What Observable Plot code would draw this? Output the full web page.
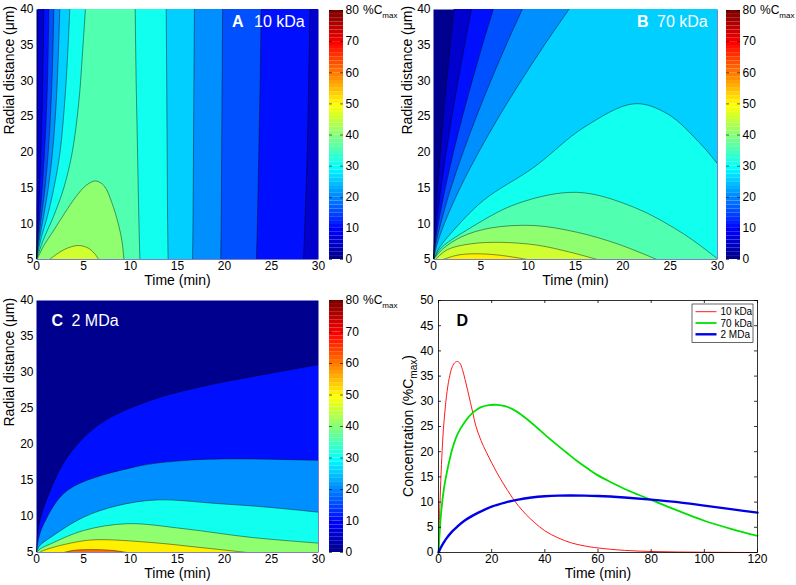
<!DOCTYPE html>
<html><head><meta charset="utf-8">
<script src="https://cdn.jsdelivr.net/npm/d3@7"></script>
<script src="https://cdn.jsdelivr.net/npm/@observablehq/plot@0.6"></script>
<style>
body{margin:0;background:#fff;}
#fig{position:relative;width:796px;height:585px;background:#fff;font-family:"Liberation Sans",Arial,Helvetica,sans-serif;}
</style></head><body><div id="fig"></div>
<script>
// ---------------- DATA ----------------
// Tick values
const timeTicks = [0, 5, 10, 15, 20, 25, 30];
const radiusTicks = [5, 10, 15, 20, 25, 30, 35, 40];
const cbTicks = [0, 10, 20, 30, 40, 50, 60, 70, 80];
const dTimeTicks = [0, 20, 40, 60, 80, 100, 120];
const dConcTicks = [0, 5, 10, 15, 20, 25, 30, 35, 40, 45, 50];

// Panel A (10 kDa): contour levels every 5 %Cmax
// left contour lines: time (min) at the radii rA
const rA = [5, 6, 8, 11, 15, 20, 27, 34, 40];
const tA5  = [0, 0.005, 0.015, 0.03, 0.05, 0.07, 0.10, 0.12, 0.14];
const tA10 = [0, 0.03, 0.08, 0.18, 0.32, 0.47, 0.62, 0.72, 0.78];
const tA15 = [0, 0.05, 0.15, 0.35, 0.60, 0.85, 1.10, 1.24, 1.31];
const tA20 = [0, 0.07, 0.23, 0.52, 0.90, 1.25, 1.55, 1.74, 1.84];
const tA25 = [0, 0.10, 0.33, 0.75, 1.25, 1.70, 2.10, 2.33, 2.48];
const tA30 = [0, 0.15, 0.50, 1.15, 1.85, 2.50, 3.00, 3.33, 3.54];
const tA35 = [0, 0.25, 0.80, 1.80, 2.90, 3.80, 4.50, 4.90, 5.20];
// right (decay) contour lines: time at radii rAright
const rAright = [40, 30, 20, 10, 5];
const tA10r = [29.1, 28.95, 28.8, 28.55, 28.4];
const tA15r = [23.9, 23.8, 23.65, 23.5, 23.4];
const tA20r = [19.8, 19.75, 19.7, 19.65, 19.6];
const tA25r = [16.8, 16.75, 16.7, 16.65, 16.6];
const tA30r = [13.8, 13.85, 13.9, 13.95, 14.0];
const tA35r = [10.5, 10.6, 10.75, 10.9, 11.0];
// closed contours near the vessel wall: [time, radius]
const A40 = [[0.05,5],[0.8,7],[1.8,9],[3,11.5],[4.2,13.8],[5.3,15.4],[6.3,16],[7.2,15.3],[8,13],[8.7,10],[9.1,7.5],[9.3,5]];
const A45 = [[1.4,5],[2.2,5.8],[3.3,6.6],[4.5,6.96],[5.5,6.6],[6.2,5.8],[6.6,5]];

// Panel B (70 kDa): levels every 5
const rB = [5, 7, 10, 15, 20, 25, 30, 35, 40];
const tB5  = [0, 0.05, 0.17, 0.42, 0.72, 1.04, 1.39, 1.76, 2.15];
const tB10 = [0, 0.10, 0.32, 0.79, 1.34, 1.94, 2.59, 3.28, 4.01];
const tB15 = [0, 0.15, 0.50, 1.24, 2.10, 3.05, 4.08, 5.16, 6.31];
const tB20 = [0, 0.23, 0.75, 1.84, 3.12, 4.53, 6.05, 7.66, 9.37];
const tB25 = [0, 0.35, 1.14, 2.80, 4.76, 6.91, 9.24, 11.7, 14.3];
const B30 = [[0,5],[0.5,6.4],[1.8,8.6],[5.3,13.3],[10.6,17.9],[15.9,23.5],[21.2,26.8],[24.7,25.4],[28.2,21.2],[30,18.4]];
const B35 = [[0,5],[0.8,6.6],[3.5,9.1],[8.8,12.8],[15.2,14.4],[21.2,12.3],[26.4,8.6],[30,5.1]];
const B40 = [[0,5],[1,6.5],[3,8.2],[6,9.4],[10.6,9.76],[15.2,8.8],[19.4,7.2],[23.6,5]];
const B45 = [[0.2,5],[1.5,6.4],[4,7.2],[7.1,7.4],[11,7.0],[14.5,6.0],[17.3,5]];
const B50 = [[1.0,5],[2.5,5.6],[4.3,5.8],[7,5.6],[9.9,5]];

// Panel C (2 MDa): levels every 10
const C10 = [[0,5],[0.15,8],[0.78,11.3],[3.26,18.2],[6.8,22.9],[12.1,26.1],[17.4,28],[24.5,29.8],[30,31.1]];
const C20 = [[0,5],[0.2,6.8],[0.78,9],[3.26,13.6],[10.35,16.85],[16,17.8],[21,18],[30,17.8]];
const C30 = [[0,5],[0.3,5.9],[1.5,7.1],[5,9.9],[8.6,11.5],[12.8,12.3],[19.2,11.8],[24.5,11.3],[30,10.6]];
const C40 = [[0,5],[0.4,5.5],[1.5,6.2],[5,8.05],[9.65,9.0],[15.7,8.3],[22.8,7.1],[30,6.3]];
const C50 = [[0.3,5],[0.78,5.3],[3.26,6.2],[6.1,6.76],[12.1,6.4],[17.4,5.7],[22.4,5]];
const C60 = [[2.9,5],[4,5.3],[6,5.4],[8,5.3],[9.65,5]];

// Panel D: mean concentration (%Cmax) vs time (min)
const red10kDa = [[0,0],[0.5,9],[1,16],[1.5,21.5],[2,25.5],[3,31],[4,34.5],[5,36.6],[6,37.6],[7,37.9],[8,37.6],[9,36.3],[10,34.3],[11,32.1],[12,29.8],[13,27.5],[14,25.2],[16,22.2],[18,19.9],[20,17.8],[22,15.8],[24,14.0],[26,12.3],[28,10.7],[30,9.3],[33,7.5],[36,6.0],[40,4.3],[45,2.9],[50,1.9],[55,1.3],[60,0.9],[70,0.42],[80,0.2],[90,0.1],[100,0.05],[110,0.02],[120,0]];
const green70kDa = [[0,0],[0.5,4.5],[1,8],[2,12.5],[3,15.5],[4,18],[5,20.2],[7,23.3],[10,26],[13,27.8],[16,28.85],[19,29.25],[22,29.3],[25,29.05],[28,28.4],[31,27.4],[34,26.15],[37,24.8],[40,23.4],[44,21.6],[48,19.9],[52,18.2],[56,16.7],[60,15.3],[65,13.9],[70,12.6],[75,11.5],[80,10.45],[90,8.3],[100,6.3],[110,4.7],[120,3.3]];
const blue2MDa = [[0,0],[1,1.1],[2,2],[3,2.8],[5,4.1],[7,5.1],[10,6.4],[15,7.9],[20,9.1],[25,9.9],[30,10.5],[35,10.9],[40,11.15],[45,11.28],[50,11.3],[55,11.28],[60,11.2],[70,10.9],[80,10.5],[90,10.0],[100,9.3],[110,8.6],[120,7.9]];
const seriesNames = ["10 kDa", "70 kDa", "2 MDa"];

// ---------------- STYLE HELPERS ----------------
const FONT = '"Liberation Sans", Arial, Helvetica, sans-serif';
const JET = (() => { // MATLAB jet(64)
  const m = 64, n = 16, u = [];
  for (let i = 1; i <= n; i++) u.push(i / n);
  for (let i = 0; i < n - 1; i++) u.push(1);
  for (let i = n; i >= 1; i--) u.push(i / n);
  const off = Math.ceil(n / 2) - (m % 4 === 1 ? 1 : 0);
  const cols = Array.from({length: m}, () => [0, 0, 0]);
  u.forEach((v, j) => {
    const g = off + j + 1, r = g + n, b = g - n;
    if (g >= 1 && g <= m) cols[g - 1][1] = v;
    if (r >= 1 && r <= m) cols[r - 1][0] = v;
    if (b >= 1 && b <= m) cols[b - 1][2] = v;
  });
  return cols.map(([r, g, b]) => d3.rgb(r * 255, g * 255, b * 255).formatHex());
})();
const levelColor = L => JET[Math.min(63, Math.floor(L / 80 * 64))];

const zip = (ts, rs) => ts.map((t, i) => [t, rs[i]]);
const ext = (a, b) => [2 * b[0] - a[0], 2 * b[1] - a[1]];
const pre = p => ext(p[1], p[0]);
const post = p => ext(p[p.length - 2], p[p.length - 1]);
// region polygons (closed outside the frame, then clipped)
const regionTop = p => [pre(p), ...p, post(p), [35, 45], [35, -3], [-3, -3]];
const regionTopRight = (l, r) => [pre(l), ...l, post(l), pre(r), ...r, post(r), [-3, -3]];
const regionRight = p => [pre(p), ...p, post(p), [35, -3], [-3, -3]];
const regionBottom = p => [pre(p), ...p, post(p), [-3, -3]];

const fig = document.getElementById("fig");
function place(el, left, top) {
  el.style.position = "absolute"; el.style.left = left + "px"; el.style.top = top + "px";
  el.style.maxWidth = "none";
  fig.appendChild(el);
}
function svgText(sel, x, y, size) {
  return sel.append("text").attr("x", x).attr("y", y).attr("font-size", size)
    .attr("font-family", FONT).attr("text-anchor", "start");
}
function panelLabel(svg, letter, name, x, xName, y) {
  const s = d3.select(svg);
  svgText(s, x, y, 16).attr("fill", "#fff").attr("font-weight", "bold").text(letter);
  svgText(s, xName, y, 16).attr("fill", "#fff").text(name);
}

function contourPanel({W, H, m, regions, strokes}) {
  const xy = {x: d => d[0], y: d => d[1]};
  return Plot.plot({
    width: W, height: H, marginTop: m.t, marginRight: m.r, marginBottom: m.b, marginLeft: m.l,
    x: {domain: [0, 30]}, y: {domain: [5, 40]},
    style: {fontFamily: FONT, fontSize: "12px", color: "#000", background: "transparent"},
    marks: [
      Plot.frame({fill: levelColor(0), stroke: "none"}),
      ...regions.map(rg => Plot.line(rg.poly, {...xy, fill: levelColor(rg.level), stroke: "none", curve: "catmull-rom", clip: true})),
      ...strokes.map(p => Plot.line(p, {...xy, stroke: "#000", strokeWidth: 0.5, strokeOpacity: 0.85, curve: "catmull-rom", clip: true})),
      Plot.axisX(timeTicks, {tickSize: 0, tickPadding: 2, label: null, fontSize: 12}),
      Plot.axisY(radiusTicks, {tickSize: 0, tickPadding: 3, label: null, fontSize: 12}),
      Plot.text(["Time (min)"], {text: d => d, frameAnchor: "bottom", dy: 25, fontSize: 14}),
      Plot.text(["Radial distance (μm)"], {text: d => d, frameAnchor: "left", dx: m.yl, rotate: -90, fontSize: 14})
    ]
  });
}

function colorbar(W, H, mt, mb) {
  const steps = JET.map((c, i) => ({lo: i * 80 / 64, hi: (i + 1) * 80 / 64, c}));
  const svg = Plot.plot({
    width: W, height: H, marginLeft: 7, marginRight: W - 21, marginTop: mt, marginBottom: mb,
    y: {domain: [0, 80]},
    style: {fontFamily: FONT, fontSize: "12px", color: "#000", background: "transparent"},
    marks: [
      Plot.rect(steps, {y1: "lo", y2: "hi", fill: "c"}),
      Plot.tickY(cbTicks, {y: d => d, insetLeft: 11, stroke: "#000", strokeWidth: 0.6}),
      Plot.tickY(cbTicks, {y: d => d, insetRight: 11, stroke: "#000", strokeWidth: 0.6}),
      Plot.axisY(cbTicks, {anchor: "right", tickSize: 0, tickPadding: 2, label: null, fontSize: 12})
    ]
  });
  const t = svgText(d3.select(svg), 41, mt + 4.3, 12).attr("fill", "#000");
  t.append("tspan").text("%C");
  t.append("tspan").attr("font-size", 8).attr("dy", 4).text("max");
  return svg;
}

// ---------------- PANEL A ----------------
const Aleft = {5: tA5, 10: tA10, 15: tA15, 20: tA20, 25: tA25, 30: tA30, 35: tA35};
const Aright = {10: tA10r, 15: tA15r, 20: tA20r, 25: tA25r, 30: tA30r, 35: tA35r};
const regA = [], strA = [];
[5, 10, 15, 20, 25, 30, 35].forEach(L => {
  const l = zip(Aleft[L], rA);
  strA.push(l);
  if (Aright[L]) {
    const r = zip(Aright[L], rAright);
    strA.push(r);
    regA.push({level: L, poly: regionTopRight(l, r)});
  } else regA.push({level: L, poly: regionTop(l)});
});
regA.push({level: 40, poly: regionBottom(A40)}); strA.push(A40);
regA.push({level: 45, poly: regionBottom(A45)}); strA.push(A45);
const svgA = contourPanel({W: 400, H: 290, m: {t: 9, r: 82, b: 31, l: 36, yl: -27}, regions: regA, strokes: strA});
panelLabel(svgA, "A", "10 kDa", 232, 254, 26.5);
place(svgA, 0, 0);
place(colorbar(80, 290, 10, 31), 322, 0);

// ---------------- PANEL B ----------------
const Bleft = {5: tB5, 10: tB10, 15: tB15, 20: tB20, 25: tB25};
const regB = [], strB = [];
[5, 10, 15, 20, 25].forEach(L => {
  const l = zip(Bleft[L], rB);
  strB.push(l); regB.push({level: L, poly: regionTop(l)});
});
regB.push({level: 30, poly: regionRight(B30)}); strB.push(B30);
regB.push({level: 35, poly: regionRight(B35)}); strB.push(B35);
regB.push({level: 40, poly: regionBottom(B40)}); strB.push(B40);
regB.push({level: 45, poly: regionBottom(B45)}); strB.push(B45);
regB.push({level: 50, poly: regionBottom(B50)}); strB.push(B50);
const svgB = contourPanel({W: 396, H: 290, m: {t: 9, r: 79, b: 31, l: 33, yl: -26}, regions: regB, strokes: strB});
panelLabel(svgB, "B", "70 kDa", 237, 257, 26.5);
place(svgB, 400, 0);
place(colorbar(77, 290, 10, 31), 719, 0);

// ---------------- PANEL C ----------------
const regC = [], strC = [];
regC.push({level: 10, poly: regionRight(C10)}); strC.push(C10);
regC.push({level: 20, poly: regionRight(C20)}); strC.push(C20);
regC.push({level: 30, poly: regionRight(C30)}); strC.push(C30);
regC.push({level: 40, poly: regionRight(C40)}); strC.push(C40);
regC.push({level: 50, poly: regionBottom(C50)}); strC.push(C50);
regC.push({level: 60, poly: regionBottom(C60)}); strC.push(C60);
const svgC = contourPanel({W: 400, H: 295, m: {t: 10, r: 82, b: 33, l: 36, yl: -27}, regions: regC, strokes: strC});
panelLabel(svgC, "C", "2 MDa", 51.5, 71.5, 36);
place(svgC, 0, 290);
place(colorbar(80, 295, 10, 33), 322, 290);

// ---------------- PANEL D ----------------
const pw = 396 - 38 - 39, ph = 295 - 10 - 33, tk = 3;
const xyD = {x: d => d[0], y: d => d[1], curve: "catmull-rom"};
const lineColors = ["#ff1a1a", "#00e000", "#0000e6"];
const lineWidths = [1, 1.8, 2.4];
const svgD = Plot.plot({
  width: 396, height: 295, marginLeft: 38, marginRight: 39, marginTop: 10, marginBottom: 33,
  x: {domain: [0, 120]}, y: {domain: [0, 50]},
  style: {fontFamily: FONT, fontSize: "12px", color: "#000", background: "transparent"},
  marks: [
    Plot.line(red10kDa, {...xyD, stroke: lineColors[0], strokeWidth: lineWidths[0]}),
    Plot.line(green70kDa, {...xyD, stroke: lineColors[1], strokeWidth: lineWidths[1]}),
    Plot.line(blue2MDa, {...xyD, stroke: lineColors[2], strokeWidth: lineWidths[2]}),
    Plot.frame({stroke: "#000", strokeWidth: 0.8}),
    Plot.tickX(dTimeTicks, {x: d => d, insetTop: ph - tk, stroke: "#000", strokeWidth: 0.8}),
    Plot.tickX(dTimeTicks, {x: d => d, insetBottom: ph - tk, stroke: "#000", strokeWidth: 0.8}),
    Plot.tickY(dConcTicks, {y: d => d, insetRight: pw - tk, stroke: "#000", strokeWidth: 0.8}),
    Plot.tickY(dConcTicks, {y: d => d, insetLeft: pw - tk, stroke: "#000", strokeWidth: 0.8}),
    Plot.axisX(dTimeTicks, {tickSize: 0, tickPadding: 2, label: null, fontSize: 12}),
    Plot.axisY(dConcTicks, {tickSize: 0, tickPadding: 5, label: null, fontSize: 12}),
    Plot.text(["Time (min)"], {text: d => d, frameAnchor: "bottom", dy: 25, fontSize: 14})
  ]
});
{
  const s = d3.select(svgD);
  svgText(s, 56.5, 36, 16).attr("font-weight", "bold").attr("fill", "#000").text("D");
  const yl = s.append("text").attr("transform", "translate(8.5,136) rotate(-90)").attr("text-anchor", "middle")
    .attr("dy", "0.35em").attr("font-size", 14).attr("font-family", FONT).attr("fill", "#000");
  yl.append("tspan").text("Concentration (%C");
  yl.append("tspan").attr("font-size", 10).attr("dy", 4).text("max");
  yl.append("tspan").attr("dy", -4).text(")");
  const lg = s.append("g").attr("font-family", FONT).attr("font-size", 10).attr("text-anchor", "start");
  lg.append("rect").attr("x", 292).attr("y", 14).attr("width", 61).attr("height", 38.5)
    .attr("fill", "#fff").attr("stroke", "#000").attr("stroke-width", 0.6);
  seriesNames.forEach((name, i) => {
    const y = 21.7 + i * 11.3;
    lg.append("line").attr("x1", 295.5).attr("x2", 316.5).attr("y1", y).attr("y2", y)
      .attr("stroke", lineColors[i]).attr("stroke-width", lineWidths[i]);
    lg.append("text").attr("x", 320.5).attr("y", y).attr("dy", "0.35em").attr("fill", "#000").text(name);
  });
}
place(svgD, 400, 290);
</script></body></html>
